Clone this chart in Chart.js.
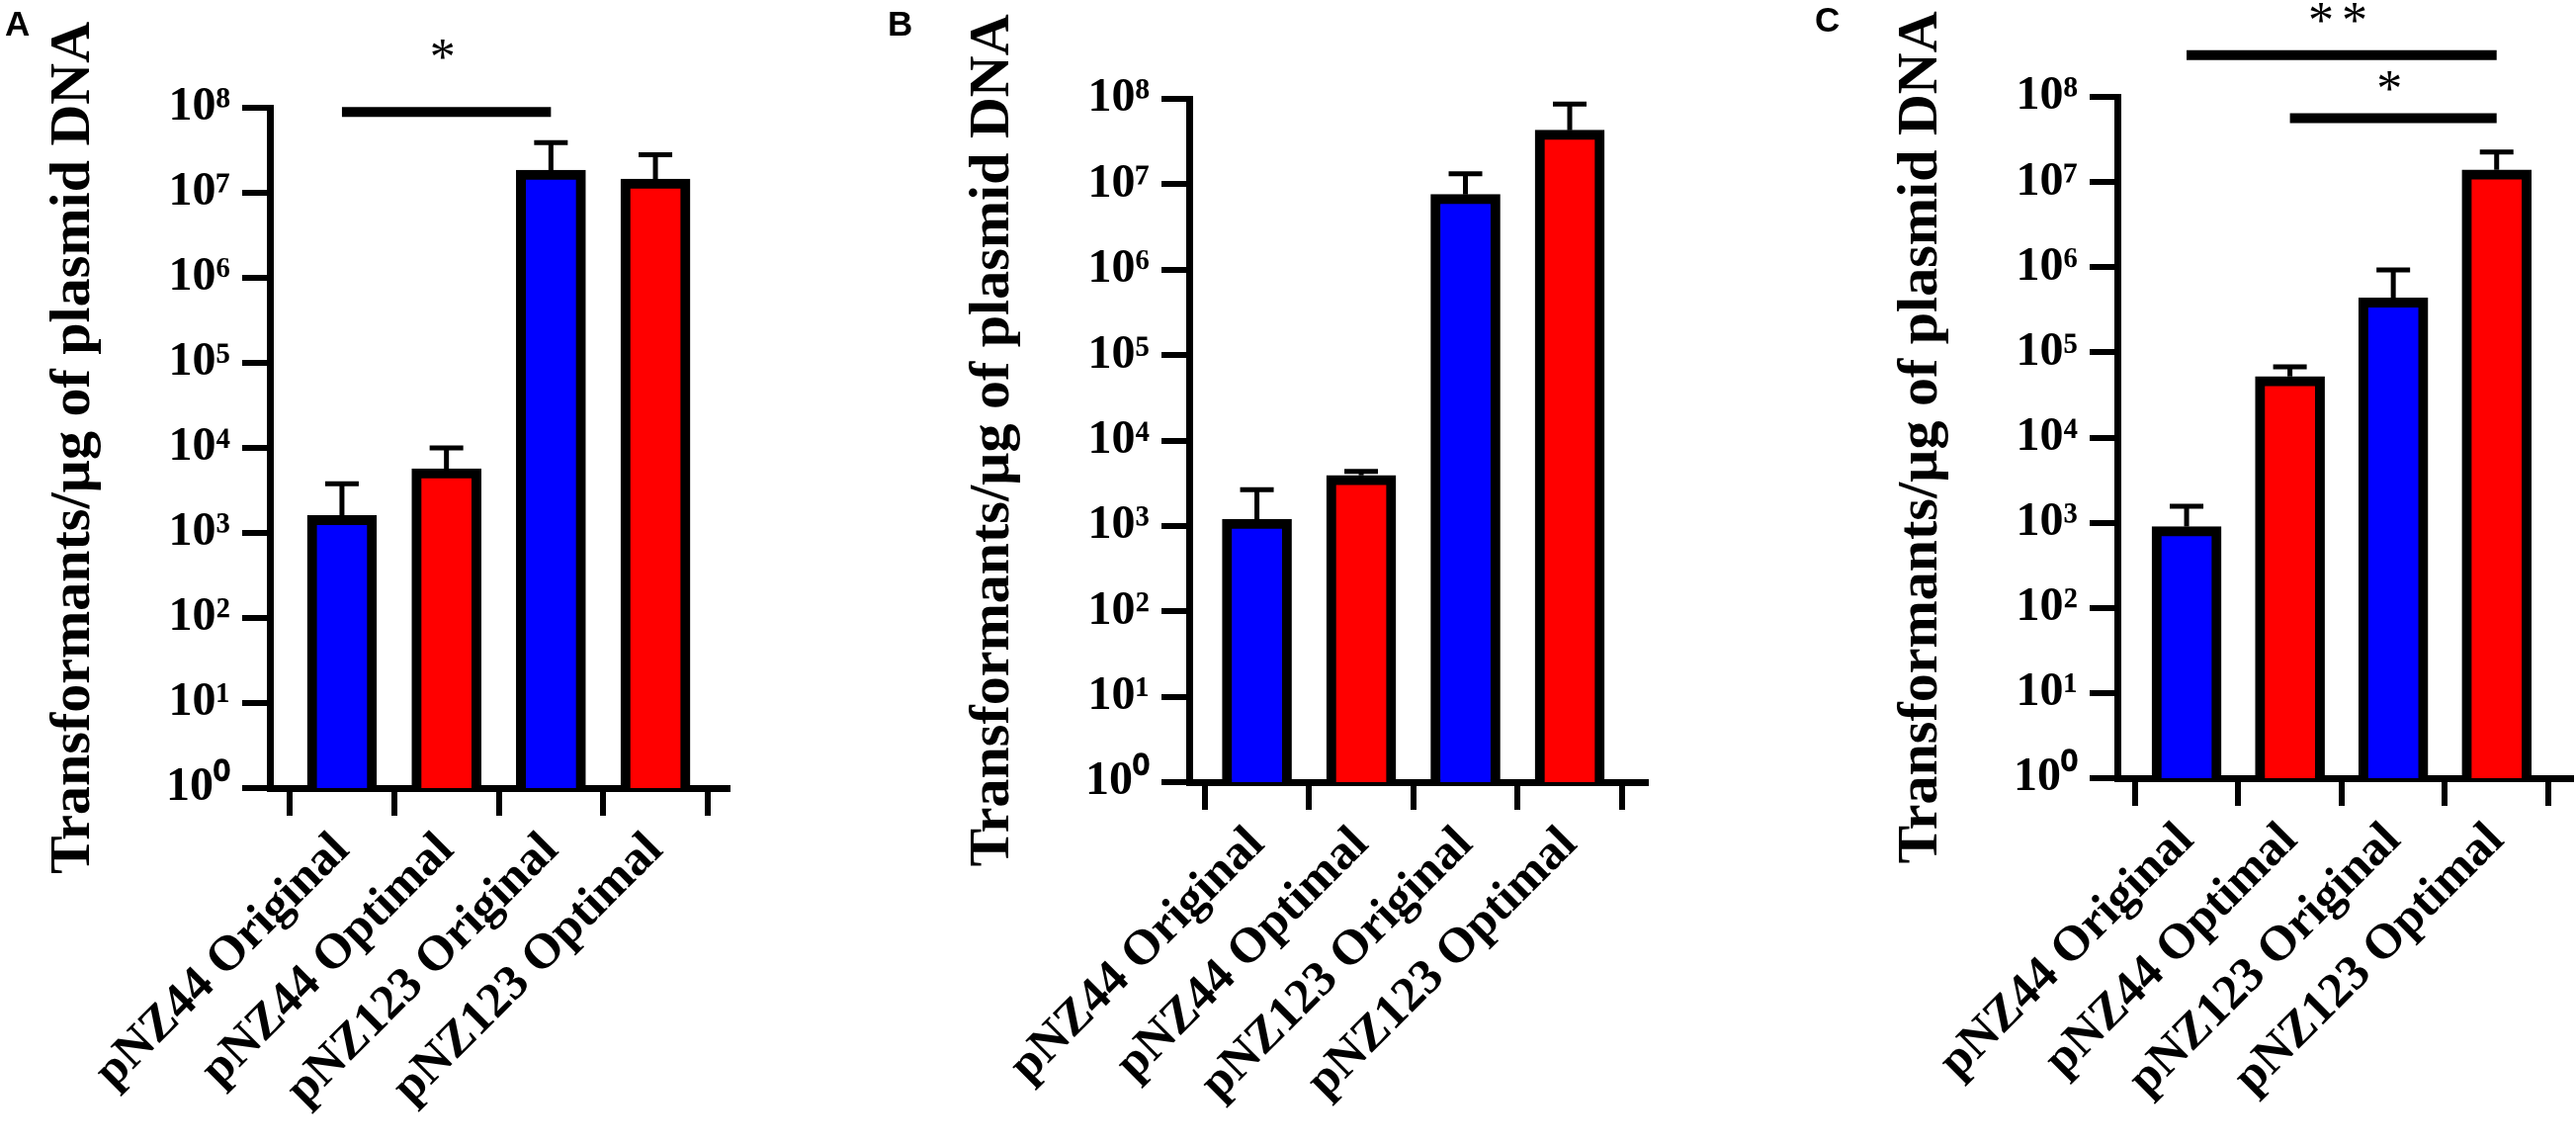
<!DOCTYPE html>
<html>
<head>
<meta charset="utf-8">
<script src="https://cdn.jsdelivr.net/npm/chart.js@4.4.1/dist/chart.umd.min.js"></script>
<style>
  html, body { margin: 0; padding: 0; background: #fff; }
  #wrap { position: relative; width: 2606px; height: 1159px; overflow: hidden; background: #fff; }
  #wrap canvas { position: absolute; top: 0; }
  .tag { position: absolute; font: bold 35px "Liberation Sans", Arial, sans-serif; line-height: 1; color: #000; }
</style>
</head>
<body>
<div id="wrap">
  <canvas id="chartA" width="870" height="1159" style="left:0px"></canvas>
  <canvas id="chartB" width="866" height="1159" style="left:870px"></canvas>
  <canvas id="chartC" width="870" height="1159" style="left:1736px"></canvas>
  <div class="tag" style="left:5px;top:6px">A</div>
  <div class="tag" style="left:898px;top:6px">B</div>
  <div class="tag" style="left:1836px;top:2px">C</div>
</div>
<script>
// categories and values (log scale)
const categories = ['pNZ44 Original', 'pNZ44 Optimal', 'pNZ123 Original', 'pNZ123 Optimal'];
const barColors = ['#0000FF', '#FF0000', '#0000FF', '#FF0000'];
const yExponents = [0, 1, 2, 3, 4, 5, 6, 7, 8];
const yTitle = 'Transformants/\u00B5g of plasmid DNA';

const meansA = [1600, 5700, 1.85e7, 1.45e7];
const upperA = [3800, 10000, 3.9e7, 2.8e7];
const meansB = [1200, 3900, 7.6e6, 4.3e7];
const upperB = [2650, 4350, 1.33e7, 8.7e7];
const meansC = [900, 52000, 437000, 1.39e7];
const upperC = [1560, 67600, 927000, 2.25e7];

// significance brackets: bar pairs, line level and mark level (log10 units)
const sigPairsA = [[0, 2]];
const sigLineExpA = [7.95];
const sigMarkExpA = [8.55];
const sigMarksA = ['*'];
const sigPairsC = [[0, 3], [1, 3]];
const sigLineExpC = [8.49, 7.75];
const sigMarkExpC = [8.86, 8.05];
const sigMarksC = ['**', '*'];

const sup = ['\u2070', '\u00B9', '\u00B2', '\u00B3', '\u2074', '\u2075', '\u2076', '\u2077', '\u2078'];
const serif = '"Liberation Serif", "Times New Roman", serif';

function errorBars(upper) {
    return {
        id: 'errorBars',
        afterDatasetsDraw(chart) {
            const ctx = chart.ctx;
            const y = chart.scales.y;
            const meta = chart.getDatasetMeta(0);
            ctx.save();
            ctx.strokeStyle = '#000';
            ctx.lineWidth = 5;
            meta.data.forEach((bar, i) => {
                const top = y.getPixelForValue(upper[i]);
                ctx.beginPath();
                ctx.moveTo(bar.x, bar.y);
                ctx.lineTo(bar.x, top);
                ctx.moveTo(bar.x - 17, top);
                ctx.lineTo(bar.x + 17, top);
                ctx.stroke();
            });
            ctx.restore();
        }
    };
}

function sigMarks(pairs, lineExp, markExp, marks) {
    return {
        id: 'sigMarks',
        afterDraw(chart) {
            const ctx = chart.ctx;
            const x = chart.scales.x;
            const y = chart.scales.y;
            ctx.save();
            ctx.strokeStyle = '#000';
            ctx.fillStyle = '#000';
            ctx.lineWidth = 10;
            pairs.forEach((p, i) => {
                const x1 = x.getPixelForValue(p[0]);
                const x2 = x.getPixelForValue(p[1]);
                const ly = y.getPixelForValue(Math.pow(10, lineExp[i]));
                ctx.beginPath();
                ctx.moveTo(x1, ly);
                ctx.lineTo(x2, ly);
                ctx.stroke();
                ctx.font = '52px ' + serif;
                ctx.textAlign = 'center';
                ctx.textBaseline = 'middle';
                ctx.letterSpacing = '8px';
                ctx.fillText(marks[i], (x1 + x2) / 2, y.getPixelForValue(Math.pow(10, markExp[i])));
            });
            ctx.restore();
        }
    };
}

function makePanel(id, means, upper, frame, extra) {
    const plugins = [errorBars(upper)];
    if (extra) plugins.push(extra);
    return new Chart(document.getElementById(id), {
        type: 'bar',
        data: {
            datasets: [{
                data: means.map((v, i) => ({ x: i, y: v })),
                backgroundColor: barColors,
                borderColor: '#000',
                borderWidth: 10,
                borderSkipped: 'start',
                barThickness: 70
            }]
        },
        options: {
            responsive: false,
            animation: false,
            devicePixelRatio: 1,
            layout: { padding: { left: frame.padLeft, top: frame.top, right: frame.padRight, bottom: 0 } },
            plugins: { legend: { display: false }, tooltip: { enabled: false } },
            scales: {
                x: {
                    type: 'linear',
                    min: frame.xMin,
                    max: frame.xMax,
                    offset: false,
                    afterBuildTicks: s => { s.ticks = categories.map((c, i) => ({ value: i })); },
                    afterFit: s => { s.height = frame.xHeight; },
                    grid: { drawOnChartArea: false, drawTicks: true, tickLength: 28, tickWidth: 6, tickColor: '#000', lineWidth: 6, color: '#000' },
                    border: { display: true, color: '#000', width: 7 },
                    ticks: {
                        autoSkip: false, minRotation: 45, maxRotation: 45, padding: 6, color: '#000',
                        font: { family: serif, size: 50, weight: 'bold' },
                        callback: v => categories[Math.round(v)]
                    }
                },
                y: {
                    type: 'logarithmic',
                    min: 1,
                    max: 1e8,
                    afterBuildTicks: s => { s.ticks = yExponents.map(k => ({ value: Math.pow(10, k) })); },
                    afterFit: s => { s.width = 233; },
                    grid: { drawOnChartArea: false, drawTicks: true, tickLength: 28, tickWidth: 6, tickColor: '#000', lineWidth: 6, color: '#000' },
                    border: { display: true, color: '#000', width: 7 },
                    ticks: {
                        autoSkip: false, padding: 12, color: '#000',
                        font: { family: serif, size: 48, weight: 'bold' },
                        callback: v => '10' + sup[Math.round(Math.log10(v))]
                    },
                    title: {
                        display: true, text: yTitle, color: '#000',
                        font: { family: serif, size: 58, weight: 'bold' },
                        padding: { top: 0, bottom: 0 }
                    }
                }
            }
        },
        plugins: plugins
    });
}

makePanel('chartA', meansA, upperA,
    { padLeft: 40, padRight: 134, top: 109, xHeight: 362, xMin: -0.69, xMax: 3.69 },
    sigMarks(sigPairsA, sigLineExpA, sigMarkExpA, sigMarksA));
makePanel('chartB', meansB, upperB,
    { padLeft: 100, padRight: 71, top: 100, xHeight: 368, xMin: -0.65, xMax: 3.73 });
makePanel('chartC', meansC, upperC,
    { padLeft: 173, padRight: 5, top: 98, xHeight: 372, xMin: -0.67, xMax: 3.72 },
    sigMarks(sigPairsC, sigLineExpC, sigMarkExpC, sigMarksC));
</script>
</body>
</html>
